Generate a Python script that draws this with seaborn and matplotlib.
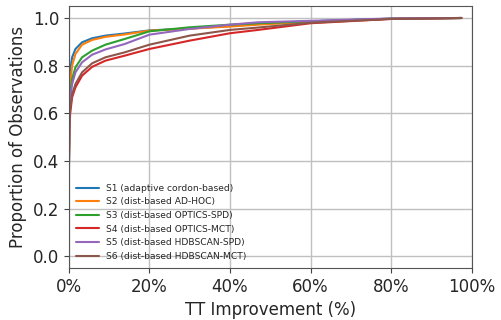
import pandas as pd
import numpy as np
import matplotlib
matplotlib.use("Agg")
import matplotlib.pyplot as plt
from matplotlib.ticker import FuncFormatter
import seaborn as sns

# Points (TT improvement in %, proportion of observations)
improvement = [0, 0.15, 0.35, 0.83, 1.66, 3.3, 5.8, 9.1, 13.9, 20, 30, 40, 47, 60, 80, 97.4]

s1 = [0.30, 0.70, 0.78, 0.835, 0.870, 0.898, 0.915, 0.926, 0.935, 0.948, 0.956, 0.966, 0.975, 0.986, 0.997, 1.0]
s2 = [0.30, 0.64, 0.72, 0.800, 0.849, 0.888, 0.908, 0.921, 0.931, 0.947, 0.955, 0.964, 0.972, 0.984, 0.997, 1.0]
s3 = [0.30, 0.61, 0.69, 0.744, 0.793, 0.835, 0.863, 0.888, 0.912, 0.944, 0.961, 0.972, 0.978, 0.986, 0.997, 1.0]
s4 = [0.30, 0.53, 0.60, 0.667, 0.709, 0.758, 0.795, 0.821, 0.842, 0.870, 0.905, 0.936, 0.950, 0.978, 0.996, 1.0]
s5 = [0.30, 0.59, 0.66, 0.723, 0.772, 0.814, 0.846, 0.868, 0.891, 0.930, 0.954, 0.972, 0.982, 0.988, 0.998, 1.0]
s6 = [0.30, 0.55, 0.62, 0.681, 0.723, 0.772, 0.810, 0.835, 0.856, 0.888, 0.926, 0.950, 0.960, 0.980, 0.996, 1.0]

labels = ["S1 (adaptive cordon-based)", "S2 (dist-based AD-HOC)",
          "S3 (dist-based OPTICS-SPD)", "S4 (dist-based OPTICS-MCT)",
          "S5 (dist-based HDBSCAN-SPD)", "S6 (dist-based HDBSCAN-MCT)"]
series = [s1, s2, s3, s4, s5, s6]

rows = []
for lab, vals in zip(labels, series):
    for x, y in zip(improvement, vals):
        rows.append({"TT Improvement": x, "Proportion": y, "Scheme": lab})
df = pd.DataFrame(rows)

sns.set_style("ticks")
fig, ax = plt.subplots(figsize=(5.02, 3.2), dpi=100)
fig.subplots_adjust(left=0.137, right=0.940, top=0.981, bottom=0.162)

sns.lineplot(data=df, x="TT Improvement", y="Proportion", hue="Scheme",
             hue_order=labels, palette="tab10", estimator=None, sort=False,
             linewidth=1.5, ax=ax)

ax.set_xlim(0, 100)
ax.set_ylim(-0.05, 1.05)
ax.set_yticks([0.0, 0.2, 0.4, 0.6, 0.8, 1.0])
ax.set_xticks([0, 20, 40, 60, 80, 100])
ax.xaxis.set_major_formatter(FuncFormatter(lambda v, p: f"{v:.0f}%"))
ax.tick_params(labelsize=12, color="#444444")
ax.grid(True, color="#c0c0c0", linewidth=1)
ax.set_axisbelow(True)
for sp in ax.spines.values():
    sp.set_visible(True)
    sp.set_color("#555555")

ax.set_xlabel("TT Improvement (%)", fontsize=12)
ax.set_ylabel("Proportion of Observations", fontsize=12)

ax.legend(loc="lower left", fontsize=6.6, frameon=False, handlelength=2.5,
          borderaxespad=0.4)

plt.savefig("out.png", dpi=100)
